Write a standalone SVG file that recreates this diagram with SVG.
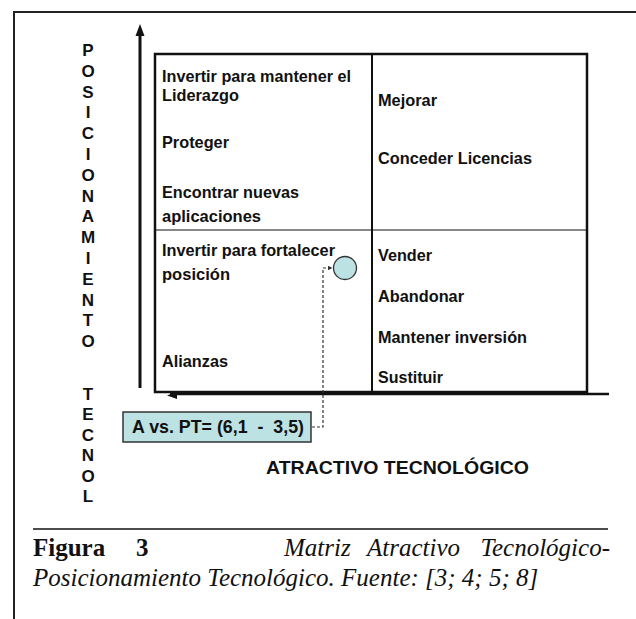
<svg xmlns="http://www.w3.org/2000/svg" width="636" height="619" viewBox="0 0 636 619">
  <style>
    .frame { stroke: #222; stroke-width: 2; fill: none; }
    .axis { stroke: #111; stroke-width: 3; fill: none; }
    .grid { stroke: #111; fill: none; }
    .cell { font-family: "Liberation Sans", Arial, sans-serif; font-weight: bold; font-size: 16.5px; fill: #111; }
    .vlabel { font-family: "Liberation Sans", Arial, sans-serif; font-weight: bold; font-size: 17px; fill: #111; text-anchor: middle; }
    .xlabel { font-family: "Liberation Sans", Arial, sans-serif; font-weight: bold; font-size: 19px; fill: #111; }
    .tag { font-family: "Liberation Sans", Arial, sans-serif; font-weight: bold; font-size: 19px; fill: #111; white-space: pre; }
    .point { fill: #BDE2E4; stroke: #333; stroke-width: 1.3; }
    .link { fill: none; stroke: #333; stroke-width: 1.2; stroke-dasharray: 3 2; }
    .cap { font-family: "Liberation Serif", "Times New Roman", serif; font-size: 25px; fill: #111; }
    .capb { font-weight: bold; }
    .capi { font-style: italic; }
  </style>
  <defs>
    <marker id="tip" viewBox="0 0 10 10" refX="9" refY="5" markerWidth="4" markerHeight="4" orient="auto">
      <path d="M0,0 L10,5 L0,10 z" fill="#333"/>
    </marker>
  </defs>

  <rect width="636" height="619" fill="#fff"/>

  <!-- page frame (top and left edges) -->
  <g id="frame">
    <path class="frame" d="M14,619 V12 H636"/>
  </g>

  <!-- axes -->
  <g id="axes">
    <line class="axis" x1="140" y1="34" x2="140" y2="388"/>
    <path d="M140,24 L135.5,36 L144.5,36 z" fill="#111"/>
    <line x1="170" y1="394" x2="609" y2="394" stroke="#111" stroke-width="2.5"/>
    <path d="M167,395.5 L177,391.5 L177,399 z" fill="#111"/>
  </g>

  <!-- vertical axis title -->
  <g id="y-title">
    <text class="vlabel" x="88" y="56">P</text>
    <text class="vlabel" x="88" y="77">O</text>
    <text class="vlabel" x="88" y="98">S</text>
    <text class="vlabel" x="88" y="118">I</text>
    <text class="vlabel" x="88" y="139">C</text>
    <text class="vlabel" x="88" y="160">I</text>
    <text class="vlabel" x="88" y="181">O</text>
    <text class="vlabel" x="88" y="202">N</text>
    <text class="vlabel" x="88" y="222">A</text>
    <text class="vlabel" x="88" y="243">M</text>
    <text class="vlabel" x="88" y="264">I</text>
    <text class="vlabel" x="88" y="285">E</text>
    <text class="vlabel" x="88" y="306">N</text>
    <text class="vlabel" x="88" y="326">T</text>
    <text class="vlabel" x="88" y="347">O</text>
    <text class="vlabel" x="88" y="400">T</text>
    <text class="vlabel" x="88" y="420">E</text>
    <text class="vlabel" x="88" y="441">C</text>
    <text class="vlabel" x="88" y="461">N</text>
    <text class="vlabel" x="88" y="482">O</text>
    <text class="vlabel" x="88" y="502">L</text>
  </g>

  <!-- matrix -->
  <g id="matrix">
    <rect class="grid" x="155" y="54" width="432" height="338" stroke-width="2.5"/>
    <line class="grid" x1="372" y1="54" x2="372" y2="392" stroke-width="2"/>
    <line class="grid" x1="155" y1="230" x2="587" y2="230" stroke-width="1.2"/>
  </g>

  <g id="q-top-left">
    <text class="cell" x="162" y="82" textLength="189" lengthAdjust="spacingAndGlyphs">Invertir para mantener el</text>
    <text class="cell" x="162" y="101" textLength="77" lengthAdjust="spacingAndGlyphs">Liderazgo</text>
    <text class="cell" x="162" y="148" textLength="67" lengthAdjust="spacingAndGlyphs">Proteger</text>
    <text class="cell" x="162" y="198" textLength="137" lengthAdjust="spacingAndGlyphs">Encontrar nuevas</text>
    <text class="cell" x="162" y="222" textLength="99" lengthAdjust="spacingAndGlyphs">aplicaciones</text>
  </g>

  <g id="q-top-right">
    <text class="cell" x="378" y="106" textLength="59" lengthAdjust="spacingAndGlyphs">Mejorar</text>
    <text class="cell" x="378" y="164" textLength="154" lengthAdjust="spacingAndGlyphs">Conceder Licencias</text>
  </g>

  <g id="q-bottom-left">
    <text class="cell" x="162" y="256" textLength="173" lengthAdjust="spacingAndGlyphs">Invertir para fortalecer</text>
    <text class="cell" x="162" y="280" textLength="68" lengthAdjust="spacingAndGlyphs">posición</text>
    <text class="cell" x="162" y="367" textLength="66" lengthAdjust="spacingAndGlyphs">Alianzas</text>
  </g>

  <g id="q-bottom-right">
    <text class="cell" x="378" y="261" textLength="54" lengthAdjust="spacingAndGlyphs">Vender</text>
    <text class="cell" x="378" y="302" textLength="86" lengthAdjust="spacingAndGlyphs">Abandonar</text>
    <text class="cell" x="378" y="343" textLength="149" lengthAdjust="spacingAndGlyphs">Mantener inversión</text>
    <text class="cell" x="378" y="383" textLength="65" lengthAdjust="spacingAndGlyphs">Sustituir</text>
  </g>

  <!-- plotted position -->
  <g id="point">
    <circle class="point" cx="345" cy="268" r="11.5"/>
  </g>

  <g id="tag">
    <rect x="123" y="412" width="188" height="30" fill="#BDE2E4" stroke="#333" stroke-width="1.5"/>
    <text class="tag" x="132" y="433" textLength="172" lengthAdjust="spacingAndGlyphs">A vs. PT= (6,1  -  3,5)</text>
  </g>

  <g id="connectors">
    <path class="link" d="M312,427 H323 V268 H332" marker-end="url(#tip)"/>
  </g>

  <g id="x-title">
    <text class="xlabel" x="266" y="474" textLength="263" lengthAdjust="spacingAndGlyphs">ATRACTIVO TECNOLÓGICO</text>
  </g>

  <!-- figure caption -->
  <g id="caption">
    <line x1="33" y1="529" x2="608" y2="529" stroke="#111" stroke-width="1.5"/>
    <text class="cap capb" x="33" y="556">Figura</text>
    <text class="cap capb" x="136" y="556">3</text>
    <text class="cap capi" x="284" y="556">Matriz</text>
    <text class="cap capi" x="367" y="556">Atractivo</text>
    <text class="cap capi" x="610" y="556" text-anchor="end">Tecnológico-</text>
    <text class="cap capi" x="33" y="586">Posicionamiento Tecnológico. Fuente: [3; 4; 5; 8]</text>
  </g>
</svg>
